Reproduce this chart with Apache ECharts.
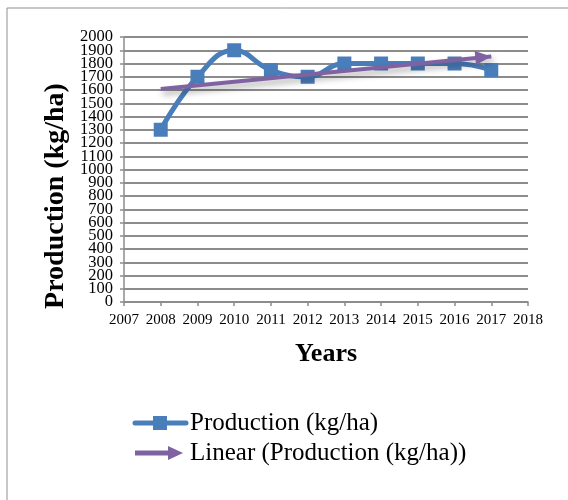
<!DOCTYPE html>
<html>
<head>
<meta charset="utf-8">
<script src="https://cdn.jsdelivr.net/npm/echarts@6/dist/echarts.min.js"></script>
<style>
  html, body { margin: 0; padding: 0; background: #fff; }
  #chart { width: 568px; height: 500px; }
</style>
</head>
<body>
<div id="chart"></div>
<script>
// Yearly production data
const years = [2008, 2009, 2010, 2011, 2012, 2013, 2014, 2015, 2016, 2017];
const production = [1300, 1700, 1900, 1750, 1700, 1800, 1800, 1800, 1800, 1750];

// Axis settings
const xMin = 2007, xMax = 2018, xStep = 1;
const yMin = 0, yMax = 2000, yStep = 100;

const seriesName = 'Production (kg/ha)';
const trendName = 'Linear (Production (kg/ha))';
const xTitle = 'Years';
const yTitle = 'Production (kg/ha)';

// Least-squares linear trend over the data points
function linearFit(xs, ys) {
  const n = xs.length;
  const mx = xs.reduce((a, b) => a + b, 0) / n;
  const my = ys.reduce((a, b) => a + b, 0) / n;
  let sxy = 0, sxx = 0;
  for (let i = 0; i < n; i++) {
    sxy += (xs[i] - mx) * (ys[i] - my);
    sxx += (xs[i] - mx) * (xs[i] - mx);
  }
  const slope = sxy / sxx;
  return x => my + slope * (x - mx);
}
const trend = linearFit(years, production);
const trendStart = [years[0], trend(years[0])];
const trendEnd = [years[years.length - 1], trend(years[years.length - 1])];

const FONT = "'Liberation Serif', 'Times New Roman', serif";
const BLUE = '#4a7ebb';
const PURPLE = '#7f62a1';
const GRID = '#8c8c8c';

const yLabelStyle = {
  color: '#000', fontFamily: FONT, fontSize: 16.5, margin: 11,
  formatter: v => String(v)
};

const chart = echarts.init(document.getElementById('chart'), null, { renderer: 'canvas' });

chart.setOption({
  animation: false,
  backgroundColor: '#fff',
  grid: { left: 124, right: 40, top: 37, bottom: 198, containLabel: false },
  xAxis: {
    type: 'value',
    min: xMin, max: xMax, interval: xStep,
    axisLine: { show: true, lineStyle: { color: GRID, width: 1.5 } },
    axisTick: { show: true, length: 4, lineStyle: { color: GRID, width: 1.5 } },
    splitLine: { show: false },
    axisLabel: {
      color: '#000', fontFamily: FONT, fontSize: 15, margin: 11,
      showMinLabel: true, showMaxLabel: true,
      formatter: v => String(v)
    }
  },
  yAxis: [
    {
      // main value axis: grid lines, ticks and the inner labels
      type: 'value',
      min: yMin, max: yMax, interval: yStep,
      axisLine: { show: true, lineStyle: { color: GRID, width: 1.5 } },
      axisTick: { show: true, length: 4, lineStyle: { color: GRID, width: 1.5 } },
      splitLine: { show: true, lineStyle: { color: GRID, width: 1.8 } },
      axisLabel: Object.assign({}, yLabelStyle, {
        formatter: v => (v === yMin || v === yMax) ? '' : String(v)
      })
    },
    {
      // companion axis carrying only the end labels (0 and 2000)
      type: 'value',
      position: 'left',
      min: yMin, max: yMax, interval: yMax - yMin,
      axisLine: { show: false },
      axisTick: { show: false },
      splitLine: { show: false },
      axisLabel: yLabelStyle
    }
  ],
  series: [
    {
      name: seriesName,
      type: 'line',
      smooth: 0.45,
      data: years.map((y, i) => [y, production[i]]),
      symbol: 'rect',
      symbolSize: 14,
      itemStyle: { color: BLUE },
      lineStyle: { color: BLUE, width: 5 },
      z: 2
    },
    {
      name: trendName,
      type: 'line',
      data: [],
      z: 3,
      markLine: {
        silent: true,
        symbol: ['none', 'triangle'],
        symbolSize: [14, 16],
        symbolOffset: [0, [0, 8]],
        label: { show: false },
        lineStyle: {
          color: PURPLE, width: 4, type: 'solid',
          shadowColor: 'rgba(0,0,0,0.35)', shadowBlur: 6, shadowOffsetX: 2, shadowOffsetY: 4
        },
        itemStyle: { color: PURPLE },
        data: [[{ coord: trendStart }, { coord: trendEnd }]]
      }
    }
  ],
  graphic: [
    // outer frame
    { type: 'line', shape: { x1: 7, y1: 8, x2: 568, y2: 8 }, style: { stroke: '#8f8f8f', lineWidth: 1 } },
    { type: 'line', shape: { x1: 7, y1: 8, x2: 7, y2: 500 }, style: { stroke: '#8f8f8f', lineWidth: 1 } },
    // axis titles
    {
      type: 'text', x: 56, y: 196, rotation: Math.PI / 2,
      style: { text: yTitle, fontFamily: FONT, fontSize: 28, fontWeight: 'bold', fill: '#000', align: 'center', verticalAlign: 'middle' }
    },
    {
      type: 'text', x: 326, y: 354,
      style: { text: xTitle, fontFamily: FONT, fontSize: 26, fontWeight: 'bold', fill: '#000', align: 'center', verticalAlign: 'middle' }
    },
    // legend: data series
    { type: 'line', shape: { x1: 135, y1: 423, x2: 186, y2: 423 }, style: { stroke: BLUE, lineWidth: 5, lineCap: 'round' } },
    { type: 'rect', shape: { x: 153, y: 416, width: 14, height: 14 }, style: { fill: BLUE } },
    {
      type: 'text', x: 190, y: 423,
      style: { text: seriesName, fontFamily: FONT, fontSize: 25, fill: '#000', align: 'left', verticalAlign: 'middle' }
    },
    // legend: trend line
    { type: 'line', shape: { x1: 135, y1: 453, x2: 170, y2: 453 }, style: { stroke: PURPLE, lineWidth: 5 } },
    { type: 'polygon', shape: { points: [[168, 446], [183, 453], [168, 460]] }, style: { fill: PURPLE } },
    {
      type: 'text', x: 190, y: 453,
      style: { text: trendName, fontFamily: FONT, fontSize: 25, fill: '#000', align: 'left', verticalAlign: 'middle' }
    }
  ]
});
</script>
</body>
</html>
